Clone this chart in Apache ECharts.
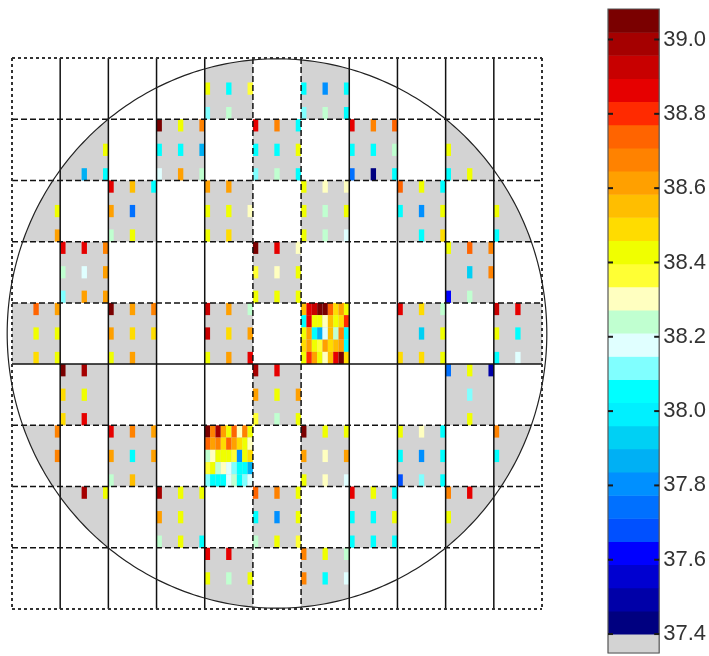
<!DOCTYPE html>
<html>
<head>
<meta charset="utf-8">
<script src="https://cdn.jsdelivr.net/npm/echarts@6/dist/echarts.min.js"></script>
<style>
  html, body { margin: 0; padding: 0; background: #ffffff; }
  #chart { width: 709px; height: 656px; }
</style>
</head>
<body>
<div id="chart"></div>
<script>
// Wafer map: 11 x 9 exposure fields, each field split into 9 x 5 measurement sub-sites.
const FIELD_COLS = 11, FIELD_ROWS = 9, SUB_X = 9, SUB_Y = 5;

// Sparse fields are sampled at sub-columns 0,4,8 and sub-rows 0,2,4.
const siteCols = [0, 4, 8];
const siteRows = [0, 2, 4];

// Field positions [col, row] (row 0 at the top) of the sparsely sampled fields
const sparseFields = [
  [4, 0], [6, 0],
  [1, 1], [3, 1], [5, 1], [7, 1], [9, 1],
  [0, 2], [2, 2], [4, 2], [6, 2], [8, 2], [10, 2],
  [1, 3], [5, 3], [9, 3],
  [0, 4], [2, 4], [4, 4], [8, 4], [10, 4],
  [1, 5], [5, 5], [9, 5],
  [0, 6], [2, 6], [6, 6], [8, 6], [10, 6],
  [1, 7], [3, 7], [5, 7], [7, 7], [9, 7],
  [4, 8], [6, 8]
];

// Readings for each sparse field: rows = siteRows, columns = siteCols (null = no reading)
const sparseValues = [
  [[null, null, null], [38.42, 38.05, 38.36], [38.11, 38.24, null]],
  [[null, null, null], [38.05, 37.80, 38.05], [38.11, 38.24, 38.05]],
  [[null, null, null], [null, null, 38.42], [null, 37.86, 38.05]],
  [[39.04, 38.42, 38.67], [38.05, 38.05, 37.86], [38.17, 38.61, 38.24]],
  [[38.85, 38.67, 38.05], [38.05, 38.05, 38.42], [38.11, 38.24, 38.05]],
  [[38.85, 38.67, 38.73], [38.05, 38.05, 38.24], [37.74, 37.43, 38.05]],
  [[null, null, null], [38.42, null, null], [38.05, 38.42, null]],
  [[null, null, null], [null, null, 38.42], [null, null, 38.61]],
  [[38.85, 38.55, 38.05], [38.61, 37.74, null], [38.24, 38.42, null]],
  [[38.61, 38.61, null], [38.42, 38.42, 38.30], [38.42, 38.48, null]],
  [[38.42, 38.30, 38.30], [38.42, 38.24, 38.42], [38.42, 38.24, 38.17]],
  [[38.73, 38.42, 38.05], [38.05, 37.80, 38.42], [null, 38.05, 38.48]],
  [[null, null, null], [38.42, null, null], [38.05, null, null]],
  [[38.85, 38.85, 38.67], [38.24, 38.17, 38.61], [38.11, 38.61, 38.61]],
  [[39.04, 38.85, 38.30], [38.36, 38.30, 38.42], [38.42, 38.42, 38.42]],
  [[38.42, 38.73, 38.67], [null, 37.93, 38.67], [37.62, 38.24, null]],
  [[null, 38.73, 38.61], [null, 38.42, 38.42], [null, 38.48, 38.42]],
  [[39.04, 38.61, 38.67], [38.61, 38.48, 38.48], [38.42, 38.61, null]],
  [[38.91, 38.61, 38.24], [38.91, 38.48, 38.61], [38.42, 38.61, 38.85]],
  [[38.85, 38.48, 38.24], [null, 37.93, 38.42], [38.48, 38.48, 38.42]],
  [[38.91, 38.85, null], [38.42, 38.05, null], [38.05, 38.17, null]],
  [[39.04, 38.98, null], [38.48, 38.42, null], [38.48, 38.85, null]],
  [[38.98, 38.85, null], [38.61, 38.42, 38.61], [38.36, 38.24, 38.42]],
  [[37.74, 38.42, 37.49], [null, 38.11, null], [null, 38.42, null]],
  [[null, null, 38.67], [null, null, 38.67], [null, null, null]],
  [[38.85, 38.67, 38.61], [38.61, 38.05, 38.61], [38.24, 38.55, null]],
  [[39.04, 38.42, 38.42], [38.61, 38.30, 38.61], [38.42, 38.30, 38.17]],
  [[38.42, 38.30, 38.05], [38.05, 37.80, 38.05], [37.68, 38.11, 38.05]],
  [[38.67, null, null], [38.05, null, null], [null, null, null]],
  [[null, 38.98, 38.42], [null, null, null], [null, null, null]],
  [[38.98, 38.42, 38.42], [38.61, 38.42, null], [38.24, 38.42, 38.05]],
  [[38.73, 38.67, 38.42], [38.05, 37.80, 38.42], [38.24, 38.42, 38.36]],
  [[38.85, 38.42, 38.05], [38.05, 38.05, 38.42], [38.05, 38.05, 38.05]],
  [[38.67, 38.85, null], [38.42, null, null], [null, null, null]],
  [[38.85, 38.85, null], [38.42, 38.24, 38.42], [null, null, null]],
  [[38.67, 38.42, 38.24], [38.67, 38.05, 38.17], [null, null, null]]
];

// Fully sampled fields [col, row] and their 5 x 9 readings
const denseFields = [[6, 4], [4, 6]];
const denseValues = [
  [
    [38.55, 38.85, 38.91, 39.04, 39.04, 38.73, 38.48, 38.61, 38.42],
    [38.05, 38.85, 38.42, 38.42, 38.30, 38.55, 38.42, 38.48, 38.79],
    [38.42, 38.61, 38.05, 37.86, 38.17, 38.55, 38.24, 38.67, 38.05],
    [38.48, 38.61, 38.42, 38.36, 38.61, 38.48, 38.55, 38.61, 38.05],
    [38.42, 38.79, 38.61, 38.42, 38.30, 38.55, 38.85, 39.04, 38.48]
  ],
  [
    [39.04, 38.67, 38.98, 38.61, 38.42, 38.73, 38.30, 38.67, 38.42],
    [38.73, 38.61, 38.67, 38.48, 38.73, 38.61, 38.48, 38.42, 38.30],
    [38.24, 38.30, 38.42, 38.42, 38.42, 38.36, 37.80, 38.42, 38.48],
    [38.36, 38.42, 38.24, 38.30, 38.17, 38.11, 38.05, 38.05, 37.86],
    [38.11, 38.05, 38.05, 38.05, 38.17, 38.24, 38.05, 38.11, 38.17]
  ]
];

// Colour scale: grey below 37.4, then 27 equal coloured bins
const scaleTicks = [37.4, 37.6, 37.8, 38.0, 38.2, 38.4, 38.6, 38.8, 39.0];
const binColors = [
  '#d3d3d3', '#000080', '#0000a8', '#0000d0', '#0000ff', '#0050ff', '#0070ff',
  '#0090ff', '#00b0f4', '#00d0f4', '#00f0ff', '#00ffff', '#80ffff', '#e0ffff',
  '#c0ffd0', '#ffffc0', '#ffff34', '#f0ff00', '#ffdc00', '#ffbe00', '#ffa000',
  '#ff8200', '#ff6400', '#ff2a00', '#e60000', '#c80000', '#a50000', '#7a0000'
];
const scaleMin = 37.349;
const scaleBase = 37.4;
const binWidth = 0.0623;
const scaleMax = scaleBase + (binColors.length - 1) * binWidth;
// lower / upper edge of bin k
const binLo = k => (k === 0 ? scaleMin : scaleBase + (k - 1) * binWidth);
const binHi = k => scaleBase + k * binWidth;

// Wafer outline, in sub-site units
const waferCenter = [FIELD_COLS * SUB_X / 2, FIELD_ROWS * SUB_Y / 2];
const waferRadius = [50.4, 22.43];

// ---- build series data ----
const measuredFields = sparseFields.concat(denseFields).map(([c, r]) => [c * SUB_X, r * SUB_Y]);

const siteData = [];
sparseFields.forEach(([c, r], i) => {
  siteRows.forEach((sy, j) => {
    siteCols.forEach((sx, k) => {
      const v = sparseValues[i][j][k];
      if (v != null) siteData.push([c * SUB_X + sx, r * SUB_Y + sy, v]);
    });
  });
});
denseFields.forEach(([c, r], i) => {
  denseValues[i].forEach((row, sy) => {
    row.forEach((v, sx) => {
      if (v != null) siteData.push([c * SUB_X + sx, r * SUB_Y + sy, v]);
    });
  });
});

// ---- geometry helpers (pixel space) ----
function waferPolygon(api) {
  const c = api.coord(waferCenter);
  const s = api.size(waferRadius);
  const pts = [];
  const n = 360;
  for (let i = 0; i < n; i++) {
    const a = (i / n) * Math.PI * 2;
    pts.push([c[0] + s[0] * Math.cos(a), c[1] + s[1] * Math.sin(a)]);
  }
  return pts;
}
function clipHalf(pts, axis, bound, keepGreater) {
  const out = [];
  for (let i = 0; i < pts.length; i++) {
    const a = pts[i], b = pts[(i + 1) % pts.length];
    const ina = keepGreater ? a[axis] >= bound : a[axis] <= bound;
    const inb = keepGreater ? b[axis] >= bound : b[axis] <= bound;
    if (ina) out.push(a);
    if (ina !== inb) {
      const t = (bound - a[axis]) / (b[axis] - a[axis]);
      out.push([a[0] + t * (b[0] - a[0]), a[1] + t * (b[1] - a[1])]);
    }
  }
  return out;
}
// Rectangle (x0,y0)-(x1,y1) intersected with the wafer disc
function clippedRect(api, x0, y0, x1, y1) {
  const c = api.coord(waferCenter);
  const s = api.size(waferRadius);
  const inside = (x, y) => ((x - c[0]) / s[0]) ** 2 + ((y - c[1]) / s[1]) ** 2 <= 1;
  if (inside(x0, y0) && inside(x1, y0) && inside(x0, y1) && inside(x1, y1)) {
    return [[x0, y0], [x1, y0], [x1, y1], [x0, y1]];
  }
  let p = waferPolygon(api);
  p = clipHalf(p, 0, x0, true);
  if (p.length) p = clipHalf(p, 0, x1, false);
  if (p.length) p = clipHalf(p, 1, y0, true);
  if (p.length) p = clipHalf(p, 1, y1, false);
  return p;
}

// ---- grid lines between fields ----
const solidFieldCols = [1, 2, 3, 4, 7, 8, 9, 10];
const dashedFieldCols = [5, 6];
const dashedFieldRows = [1, 2, 3, 4, 6, 7, 8];
const solidFieldRows = [5];
const lineData = [];
solidFieldCols.forEach(c => lineData.push([0, c * SUB_X, 0]));
dashedFieldCols.forEach(c => lineData.push([0, c * SUB_X, 1]));
solidFieldRows.forEach(r => lineData.push([1, r * SUB_Y, 0]));
dashedFieldRows.forEach(r => lineData.push([1, r * SUB_Y, 1]));
[0, FIELD_COLS].forEach(c => lineData.push([0, c * SUB_X, 2]));
[0, FIELD_ROWS].forEach(r => lineData.push([1, r * SUB_Y, 2]));
const lineStyles = [
  { stroke: '#111111', lineWidth: 1.5, fill: null },
  { stroke: '#111111', lineWidth: 1.5, lineDash: [6, 3], fill: null },
  { stroke: '#333333', lineWidth: 2, lineDash: [3, 3], fill: null }
];

const chart = echarts.init(document.getElementById('chart'), null, { renderer: 'canvas' });

const option = {
  animation: false,
  backgroundColor: '#ffffff',
  grid: [
    { left: 12, top: 58, width: 530, height: 551 },
    { left: 608, top: 9, width: 52, height: 644 }
  ],
  xAxis: [
    { gridIndex: 0, type: 'value', min: 0, max: FIELD_COLS * SUB_X, show: false },
    { gridIndex: 1, type: 'value', min: 0, max: 1, show: false }
  ],
  yAxis: [
    { gridIndex: 0, type: 'value', min: 0, max: FIELD_ROWS * SUB_Y, inverse: true, show: false },
    {
      gridIndex: 1, type: 'value', min: scaleMin, max: scaleMax, position: 'right',
      axisLine: { show: false },
      splitLine: { show: false },
      axisTick: { show: false },
      axisLabel: { show: true, customValues: scaleTicks, margin: 4,
                   formatter: v => v.toFixed(1),
                   fontFamily: 'Liberation Sans, Arial, sans-serif', fontSize: 22, color: '#333' }
    }
  ],
  visualMap: {
    type: 'piecewise',
    show: false,
    seriesIndex: 1,
    dimension: 2,
    pieces: binColors.map((color, k) => ({ gte: binLo(k), lt: binHi(k), color })),
    outOfRange: { color: '#ffffff' }
  },
  series: [
    {
      // measured fields (grey background), clipped to the wafer
      type: 'custom', xAxisIndex: 0, yAxisIndex: 0, z: 1, silent: true,
      data: measuredFields,
      renderItem: (params, api) => {
        const p0 = api.coord([api.value(0), api.value(1)]);
        const p1 = api.coord([api.value(0) + SUB_X, api.value(1) + SUB_Y]);
        const pts = clippedRect(api, p0[0], p0[1], p1[0], p1[1]);
        if (pts.length < 3) return null;
        return { type: 'polygon', shape: { points: pts }, style: { fill: '#d3d3d3', stroke: null } };
      }
    },
    {
      // measurement sites coloured by value
      type: 'custom', xAxisIndex: 0, yAxisIndex: 0, z: 2, silent: true,
      data: siteData,
      renderItem: (params, api) => {
        const p0 = api.coord([api.value(0), api.value(1)]);
        const p1 = api.coord([api.value(0) + 1, api.value(1) + 1]);
        const pts = clippedRect(api, p0[0], p0[1], p1[0], p1[1]);
        if (pts.length < 3) return null;
        return { type: 'polygon', shape: { points: pts }, style: { fill: api.visual('color'), stroke: null } };
      }
    },
    {
      // field boundaries
      type: 'custom', xAxisIndex: 0, yAxisIndex: 0, z: 3, silent: true,
      data: lineData,
      renderItem: (params, api) => {
        const vertical = api.value(0) === 0;
        const pos = api.value(1);
        const a = vertical ? api.coord([pos, 0]) : api.coord([0, pos]);
        const b = vertical ? api.coord([pos, FIELD_ROWS * SUB_Y]) : api.coord([FIELD_COLS * SUB_X, pos]);
        return { type: 'line', shape: { x1: a[0], y1: a[1], x2: b[0], y2: b[1] },
                 style: lineStyles[api.value(2)] };
      }
    },
    {
      // wafer edge
      type: 'custom', xAxisIndex: 0, yAxisIndex: 0, z: 4, silent: true,
      data: [[0]],
      renderItem: (params, api) => ({
        type: 'polygon', shape: { points: waferPolygon(api) },
        style: { fill: null, stroke: '#222', lineWidth: 1.2 }
      })
    },
    {
      // colour bar bins
      type: 'custom', xAxisIndex: 1, yAxisIndex: 1, z: 2, silent: true,
      data: binColors.map((c, k) => [k]),
      renderItem: (params, api) => {
        const k = api.value(0);
        const top = api.coord([0, binHi(k)]);
        const bot = api.coord([1, binLo(k)]);
        return { type: 'rect', shape: { x: top[0], y: top[1], width: bot[0] - top[0], height: bot[1] - top[1] + 0.5 },
                 style: { fill: binColors[k], stroke: null } };
      }
    },
    {
      // colour bar frame
      type: 'custom', xAxisIndex: 1, yAxisIndex: 1, z: 5, silent: true,
      data: [[0]],
      renderItem: (params, api) => {
        const top = api.coord([0, scaleMax]);
        const bot = api.coord([1, scaleMin]);
        return {
          type: 'rect',
          shape: { x: top[0], y: top[1], width: bot[0] - top[0], height: bot[1] - top[1] },
          style: { fill: null, stroke: '#555', lineWidth: 1.2 }
        };
      }
    },
    {
      // colour bar tick marks on both inner edges
      type: 'custom', xAxisIndex: 1, yAxisIndex: 1, z: 6, silent: true,
      data: scaleTicks.map(v => [0.5, v]),
      renderItem: (params, api) => {
        const l = api.coord([0, api.value(1)]);
        const r = api.coord([1, api.value(1)]);
        return {
          type: 'group',
          children: [
            { type: 'rect', shape: { x: l[0], y: l[1] - 1, width: 5, height: 2 }, style: { fill: '#1a1a1a' } },
            { type: 'rect', shape: { x: r[0] - 5, y: r[1] - 1, width: 5, height: 2 }, style: { fill: '#1a1a1a' } }
          ]
        };
      }
    }
  ]
};

chart.setOption(option);
</script>
</body>
</html>
